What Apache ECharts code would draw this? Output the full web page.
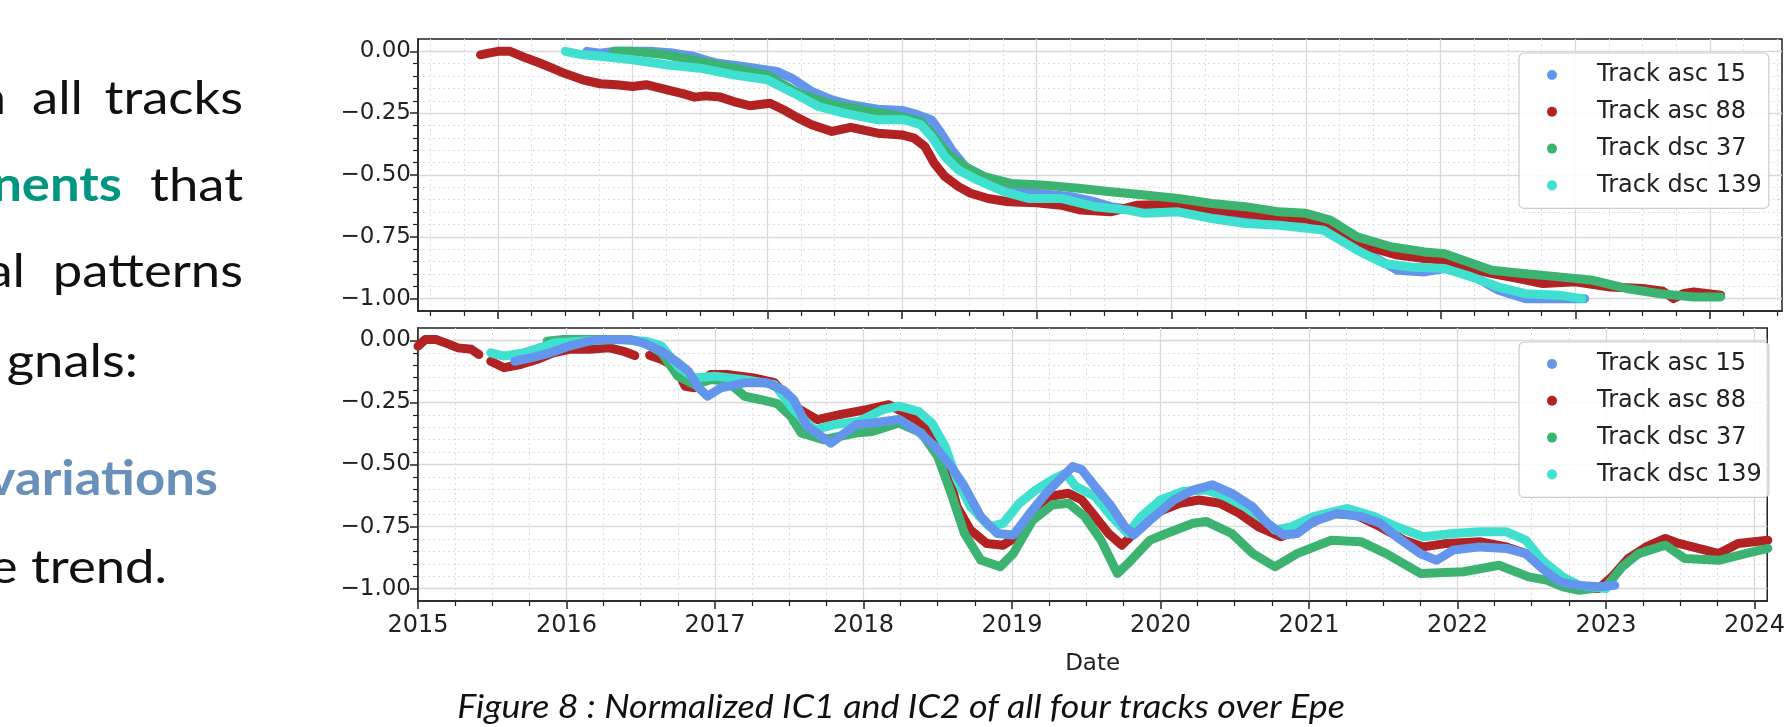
<!DOCTYPE html>
<html>
<head>
<meta charset="utf-8">
<script src="https://cdn.jsdelivr.net/npm/echarts@6/dist/echarts.min.js"></script>
<style>
  html, body { margin: 0; padding: 0; background: #ffffff; }
  #chart { width: 1788px; height: 727px; }
</style>
</head>
<body>
<div id="chart"></div>
<script>
// ---------- data (decimal year, normalized value) ----------
const seriesNames = ['Track asc 15', 'Track asc 88', 'Track dsc 37', 'Track dsc 139'];
const yearTicks = [2015, 2016, 2017, 2018, 2019, 2020, 2021, 2022, 2023, 2024];
const valueTicks = [0, -0.25, -0.5, -0.75, -1.0];

// IC1 (top panel)
const ic1Asc15 = [[2015.66,0],[2015.76,-0.007],[2015.86,0],[2016.0,0],[2016.15,0],[2016.3,-0.007],[2016.45,-0.02],[2016.62,-0.047],[2016.82,-0.061],[2017.07,-0.081],[2017.18,-0.108],[2017.33,-0.162],[2017.48,-0.196],[2017.62,-0.216],[2017.82,-0.234],[2018.0,-0.239],[2018.12,-0.257],[2018.22,-0.277],[2018.29,-0.331],[2018.37,-0.399],[2018.47,-0.466],[2018.61,-0.507],[2018.81,-0.547],[2019.0,-0.574],[2019.26,-0.588],[2019.43,-0.608],[2019.55,-0.628],[2019.75,-0.642],[2020.0,-0.642],[2020.3,-0.662],[2020.67,-0.675],[2021.0,-0.682],[2021.26,-0.736],[2021.46,-0.818],[2021.68,-0.885],[2021.88,-0.892],[2022.03,-0.878],[2022.23,-0.905],[2022.43,-0.966],[2022.63,-1.0],[2022.83,-1.0],[2023.07,-1.0]];
const ic1Asc88 = [[2014.87,-0.014],[2014.93,-0.007],[2015.0,0],[2015.09,0],[2015.21,-0.027],[2015.31,-0.047],[2015.42,-0.072],[2015.49,-0.088],[2015.63,-0.115],[2015.76,-0.131],[2015.88,-0.135],[2016.0,-0.142],[2016.1,-0.135],[2016.25,-0.155],[2016.38,-0.172],[2016.46,-0.185],[2016.54,-0.18],[2016.65,-0.185],[2016.75,-0.203],[2016.87,-0.22],[2017.02,-0.21],[2017.12,-0.236],[2017.23,-0.27],[2017.33,-0.297],[2017.48,-0.324],[2017.62,-0.307],[2017.82,-0.331],[2018.0,-0.338],[2018.09,-0.351],[2018.17,-0.385],[2018.24,-0.453],[2018.32,-0.507],[2018.42,-0.547],[2018.51,-0.574],[2018.64,-0.595],[2018.79,-0.608],[2019.0,-0.612],[2019.18,-0.622],[2019.33,-0.642],[2019.55,-0.649],[2019.75,-0.622],[2020.0,-0.618],[2020.25,-0.635],[2020.54,-0.655],[2020.77,-0.669],[2021.0,-0.676],[2021.13,-0.696],[2021.28,-0.736],[2021.46,-0.79],[2021.68,-0.824],[2021.88,-0.838],[2022.03,-0.845],[2022.18,-0.872],[2022.38,-0.899],[2022.58,-0.919],[2022.76,-0.939],[2023.0,-0.932],[2023.26,-0.953],[2023.5,-0.959],[2023.65,-0.97],[2023.73,-1.0],[2023.8,-0.98],[2023.88,-0.973],[2024.08,-0.986]];
const ic1Dsc37 = [[2015.86,0],[2016.0,0],[2016.25,-0.014],[2016.5,-0.041],[2016.75,-0.068],[2017.0,-0.095],[2017.08,-0.122],[2017.23,-0.169],[2017.45,-0.209],[2017.7,-0.236],[2018.0,-0.264],[2018.14,-0.284],[2018.24,-0.345],[2018.34,-0.412],[2018.47,-0.466],[2018.61,-0.507],[2018.81,-0.534],[2019.06,-0.541],[2019.31,-0.554],[2019.55,-0.568],[2019.8,-0.581],[2020.05,-0.595],[2020.3,-0.615],[2020.55,-0.628],[2020.8,-0.649],[2021.0,-0.655],[2021.18,-0.682],[2021.38,-0.75],[2021.63,-0.79],[2021.88,-0.811],[2022.03,-0.818],[2022.38,-0.885],[2022.63,-0.899],[2022.88,-0.912],[2023.13,-0.926],[2023.38,-0.959],[2023.63,-0.98],[2023.88,-0.993],[2024.08,-0.993]];
const ic1Dsc139 = [[2015.5,0],[2015.63,-0.014],[2015.76,-0.02],[2016.0,-0.034],[2016.25,-0.054],[2016.5,-0.068],[2016.75,-0.095],[2017.0,-0.115],[2017.2,-0.17],[2017.38,-0.223],[2017.57,-0.25],[2017.82,-0.277],[2018.02,-0.277],[2018.14,-0.297],[2018.22,-0.345],[2018.32,-0.426],[2018.42,-0.48],[2018.56,-0.52],[2018.76,-0.568],[2018.94,-0.595],[2019.18,-0.595],[2019.43,-0.628],[2019.68,-0.642],[2019.8,-0.655],[2020.05,-0.649],[2020.3,-0.676],[2020.55,-0.696],[2020.8,-0.703],[2021.13,-0.723],[2021.38,-0.804],[2021.58,-0.858],[2021.78,-0.872],[2022.03,-0.878],[2022.23,-0.912],[2022.43,-0.953],[2022.63,-0.98],[2022.88,-0.986],[2023.05,-1.0]];

// IC2 (bottom panel)
const ic2Asc15 = [[2015.65,-0.084],[2015.76,-0.07],[2015.89,-0.05],[2016.02,-0.023],[2016.15,-0.003],[2016.24,0.004],[2016.42,0.004],[2016.51,-0.009],[2016.64,-0.043],[2016.75,-0.09],[2016.82,-0.124],[2016.89,-0.191],[2016.95,-0.225],[2017.04,-0.191],[2017.2,-0.171],[2017.35,-0.171],[2017.46,-0.2],[2017.53,-0.239],[2017.62,-0.346],[2017.78,-0.414],[2017.95,-0.34],[2018.06,-0.333],[2018.24,-0.319],[2018.37,-0.367],[2018.48,-0.427],[2018.59,-0.508],[2018.68,-0.589],[2018.79,-0.71],[2018.9,-0.778],[2019.01,-0.784],[2019.12,-0.697],[2019.23,-0.616],[2019.34,-0.549],[2019.41,-0.508],[2019.47,-0.521],[2019.56,-0.589],[2019.67,-0.67],[2019.76,-0.751],[2019.82,-0.784],[2019.93,-0.724],[2020.09,-0.643],[2020.22,-0.603],[2020.35,-0.582],[2020.48,-0.616],[2020.62,-0.67],[2020.72,-0.737],[2020.83,-0.784],[2020.92,-0.778],[2021.03,-0.73],[2021.19,-0.697],[2021.35,-0.71],[2021.48,-0.737],[2021.59,-0.791],[2021.75,-0.859],[2021.86,-0.886],[2021.97,-0.845],[2022.15,-0.832],[2022.33,-0.838],[2022.46,-0.859],[2022.57,-0.919],[2022.69,-0.973],[2022.82,-0.987],[2022.95,-0.993],[2023.06,-0.987]];
const ic2Asc88 = [[2015.0,-0.023],[2015.05,0.004],[2015.12,0.004],[2015.18,-0.009],[2015.27,-0.03],[2015.36,-0.036],[2015.41,-0.057],null,[2015.49,-0.084],[2015.58,-0.11],[2015.69,-0.097],[2015.8,-0.077],[2015.91,-0.05],[2016.02,-0.036],[2016.15,-0.036],[2016.29,-0.03],[2016.38,-0.043],[2016.46,-0.061],null,[2016.56,-0.06],[2016.64,-0.077],[2016.73,-0.104],[2016.8,-0.185],[2016.86,-0.191],[2016.97,-0.137],[2017.08,-0.137],[2017.26,-0.151],[2017.4,-0.17],[2017.46,-0.212],[2017.53,-0.265],[2017.69,-0.319],[2017.84,-0.299],[2018.02,-0.279],[2018.17,-0.259],[2018.28,-0.292],[2018.39,-0.333],[2018.5,-0.427],[2018.57,-0.535],[2018.63,-0.67],[2018.72,-0.764],[2018.83,-0.818],[2018.94,-0.825],[2019.03,-0.791],[2019.14,-0.697],[2019.25,-0.629],[2019.38,-0.616],[2019.47,-0.643],[2019.56,-0.71],[2019.65,-0.778],[2019.74,-0.825],[2019.82,-0.778],[2019.96,-0.697],[2020.13,-0.656],[2020.26,-0.643],[2020.4,-0.656],[2020.53,-0.697],[2020.66,-0.751],[2020.81,-0.791],[2020.92,-0.764],[2021.15,-0.697],[2021.32,-0.704],[2021.48,-0.751],[2021.64,-0.805],[2021.77,-0.832],[2021.93,-0.818],[2022.15,-0.811],[2022.33,-0.832],[2022.46,-0.859],[2022.6,-0.912],[2022.71,-0.966],[2022.82,-1.0],[2022.95,-1.0],[2023.04,-0.953],[2023.15,-0.879],[2023.27,-0.832],[2023.4,-0.798],[2023.49,-0.818],[2023.67,-0.845],[2023.76,-0.859],[2023.89,-0.818],[2024.09,-0.805]];
const ic2Dsc37 = [[2015.87,-0.003],[2015.98,0.004],[2016.2,0.004],[2016.42,0.004],[2016.53,-0.009],[2016.64,-0.05],[2016.75,-0.144],[2016.86,-0.178],[2016.97,-0.158],[2017.08,-0.164],[2017.2,-0.225],[2017.31,-0.239],[2017.42,-0.255],[2017.51,-0.306],[2017.58,-0.373],[2017.73,-0.4],[2017.95,-0.373],[2018.06,-0.367],[2018.24,-0.333],[2018.39,-0.373],[2018.5,-0.468],[2018.59,-0.616],[2018.68,-0.778],[2018.79,-0.885],[2018.92,-0.912],[2019.01,-0.858],[2019.14,-0.724],[2019.27,-0.663],[2019.38,-0.656],[2019.49,-0.71],[2019.6,-0.805],[2019.71,-0.939],[2019.78,-0.899],[2019.93,-0.805],[2020.04,-0.778],[2020.22,-0.737],[2020.31,-0.73],[2020.48,-0.778],[2020.62,-0.858],[2020.77,-0.912],[2020.92,-0.859],[2021.15,-0.805],[2021.35,-0.811],[2021.52,-0.859],[2021.75,-0.939],[2022.04,-0.932],[2022.28,-0.906],[2022.48,-0.953],[2022.6,-0.966],[2022.71,-0.993],[2022.82,-1.007],[2023.0,-0.993],[2023.11,-0.912],[2023.22,-0.859],[2023.4,-0.825],[2023.53,-0.879],[2023.76,-0.886],[2023.94,-0.859],[2024.09,-0.838]];
const ic2Dsc139 = [[2015.49,-0.05],[2015.58,-0.063],[2015.71,-0.05],[2015.82,-0.03],[2015.93,-0.009],[2016.09,-0.003],[2016.31,0.004],[2016.53,-0.003],[2016.64,-0.023],[2016.75,-0.104],[2016.86,-0.151],[2017.0,-0.144],[2017.2,-0.158],[2017.4,-0.178],[2017.53,-0.279],[2017.67,-0.36],[2017.8,-0.34],[2017.97,-0.326],[2018.13,-0.279],[2018.24,-0.265],[2018.37,-0.286],[2018.46,-0.333],[2018.55,-0.427],[2018.63,-0.562],[2018.72,-0.67],[2018.85,-0.751],[2018.94,-0.737],[2019.05,-0.656],[2019.16,-0.603],[2019.27,-0.562],[2019.36,-0.535],[2019.43,-0.589],[2019.56,-0.629],[2019.67,-0.71],[2019.78,-0.778],[2019.87,-0.71],[2020.0,-0.643],[2020.15,-0.609],[2020.31,-0.603],[2020.44,-0.629],[2020.57,-0.67],[2020.7,-0.724],[2020.77,-0.764],[2020.88,-0.751],[2021.03,-0.71],[2021.26,-0.677],[2021.44,-0.71],[2021.59,-0.751],[2021.77,-0.791],[2021.97,-0.778],[2022.15,-0.771],[2022.33,-0.771],[2022.46,-0.805],[2022.57,-0.886],[2022.71,-0.953],[2022.82,-0.987],[2023.0,-1.0]];

// ---------- styling ----------
const colors = {
  'Track asc 15': '#6495ED',
  'Track asc 88': '#B22222',
  'Track dsc 37': '#3CB371',
  'Track dsc 139': '#40E0D0'
};
const FONT = 'DejaVu Sans';
const INK = '#222222';

function minorList(min, max, step, isMajor) {
  const out = [];
  const n0 = Math.ceil(min / step - 1e-9), n1 = Math.floor(max / step + 1e-9);
  for (let i = n0; i <= n1; i++) {
    const v = Math.round(i * step * 1000) / 1000;
    if (v > min + 1e-6 && v < max - 1e-6 && !isMajor(v)) out.push(v);
  }
  return out;
}
const isInt = v => Math.abs(v - Math.round(v)) < 1e-6;
const isQuarterVal = v => Math.abs(v / 0.25 - Math.round(v / 0.25)) < 1e-6;

const Y_MIN = -1.05, Y_MAX = 0.05;
const TOP_X = [2014.406, 2024.535];
const BOT_X = [2015.0, 2024.086];

const yMinor = minorList(Y_MIN, Y_MAX, 0.05, isQuarterVal);
const topXMinor = minorList(TOP_X[0], TOP_X[1], 0.25, isInt);
const botXMinor = minorList(BOT_X[0], BOT_X[1], 0.25, isInt);

const fmtY = v => (v < 0 ? '\u2212' : '') + Math.abs(v).toFixed(2);

function majorX(grid, range, showLabels) {
  return {
    type: 'value', gridIndex: grid, min: range[0], max: range[1], position: 'bottom',
    axisLine: { show: true, onZero: false, lineStyle: { color: INK, width: 1.5 } },
    axisTick: { show: true, length: 8, customValues: yearTicks, lineStyle: { color: INK, width: 1.5 } },
    axisLabel: { show: showLabels, customValues: yearTicks, formatter: v => String(Math.round(v)),
      fontFamily: FONT, fontSize: 24, color: INK, margin: 13 },
    splitLine: { show: true, lineStyle: { color: '#d9d9d9', width: 1.3 } },
    name: showLabels ? 'Date' : '', nameLocation: 'middle', nameGap: 52,
    nameTextStyle: { fontFamily: FONT, fontSize: 23, color: INK }
  };
}
function minorX(grid, range, list) {
  return {
    type: 'value', gridIndex: grid, min: range[0], max: range[1], position: 'bottom',
    axisLine: { show: false, onZero: false },
    axisTick: { show: true, length: 5, customValues: list, lineStyle: { color: INK, width: 1.2 } },
    axisLabel: { show: false, customValues: list },
    splitLine: { show: true, lineStyle: { color: '#dedede', width: 1, type: [2, 3] } }
  };
}
function majorY(grid) {
  return {
    type: 'value', gridIndex: grid, min: Y_MIN, max: Y_MAX, position: 'left',
    axisLine: { show: true, onZero: false, lineStyle: { color: INK, width: 1.5 } },
    axisTick: { show: true, length: 8, customValues: valueTicks, lineStyle: { color: INK, width: 1.5 } },
    axisLabel: { show: true, customValues: valueTicks, formatter: fmtY,
      fontFamily: FONT, fontSize: 23, color: INK, margin: 7 },
    splitLine: { show: true, lineStyle: { color: '#d9d9d9', width: 1.3 } }
  };
}
function minorY(grid) {
  return {
    type: 'value', gridIndex: grid, min: Y_MIN, max: Y_MAX, position: 'left',
    axisLine: { show: false, onZero: false },
    axisTick: { show: true, length: 5, customValues: yMinor, lineStyle: { color: INK, width: 1.2 } },
    axisLabel: { show: false, customValues: yMinor },
    splitLine: { show: true, lineStyle: { color: '#dedede', width: 1, type: [2, 3] } }
  };
}

function mkSeries(name, data, xi, yi, z) {
  return {
    name: name, type: 'line', data: data, xAxisIndex: xi, yAxisIndex: yi,
    showSymbol: false, symbol: 'circle', connectNulls: false, z: z,
    color: colors[name],
    lineStyle: { width: 9, color: colors[name], cap: 'round', join: 'round' },
    emphasis: { disabled: true }, animation: false
  };
}

function legendAt(top) {
  return {
    orient: 'vertical', left: 1519, top: top, icon: 'circle',
    itemWidth: 10, itemHeight: 10, itemGap: 12.8,
    data: seriesNames,
    padding: [10, 7, 11, 28],
    backgroundColor: 'rgba(255,255,255,0.85)', borderColor: '#cccccc', borderWidth: 1.2, borderRadius: 5,
    textStyle: { fontFamily: FONT, fontSize: 24, color: INK, lineHeight: 24, padding: [0, 0, 0, 35] },
    selectedMode: false
  };
}

const leftFont = 'Lato';
function slideText(str, x, yMid, align, color, weight) {
  return {
    type: 'text', x: x, y: yMid, scaleX: 1.12, silent: true,
    style: { text: str, fill: color || '#111111', font: (weight || 'normal') + ' 47px ' + leftFont,
      align: align, verticalAlign: 'middle' }
  };
}

const option = {
  backgroundColor: '#ffffff',
  animation: false,
  grid: [
    { left: 418, top: 39, width: 1364, height: 272, show: true, borderColor: INK, borderWidth: 1.5, backgroundColor: 'transparent' },
    { left: 418, top: 328, width: 1369, height: 273, show: true, borderColor: INK, borderWidth: 1.5, backgroundColor: 'transparent' }
  ],
  xAxis: [ majorX(0, TOP_X, false), minorX(0, TOP_X, topXMinor), majorX(1, BOT_X, true), minorX(1, BOT_X, botXMinor) ],
  yAxis: [ majorY(0), minorY(0), majorY(1), minorY(1) ],
  legend: [ legendAt(53), legendAt(342) ],
  series: [
    mkSeries('Track asc 15', ic1Asc15, 0, 0, 2),
    mkSeries('Track asc 88', ic1Asc88, 0, 0, 3),
    mkSeries('Track dsc 37', ic1Dsc37, 0, 0, 4),
    mkSeries('Track dsc 139', ic1Dsc139, 0, 0, 5),
    mkSeries('Track asc 88', ic2Asc88, 2, 2, 2),
    mkSeries('Track dsc 37', ic2Dsc37, 2, 2, 3),
    mkSeries('Track dsc 139', ic2Dsc139, 2, 2, 4),
    mkSeries('Track asc 15', ic2Asc15, 2, 2, 5)
  ],
  graphic: [
    slideText('n', 6, 99, 'right'),
    slideText('all', 32, 99, 'left'),
    slideText('tracks', 243, 99, 'right'),
    slideText('nents', 122, 186, 'right', '#00967F', 'bold'),
    slideText('that', 243, 186, 'right'),
    slideText('al', 25, 272, 'right'),
    slideText('patterns', 243, 272, 'right'),
    slideText('gnals:', 138, 362, 'right'),
    slideText('variations', 218, 480, 'right', '#6890B8', 'bold'),
    slideText('e trend.', 167, 568, 'right'),
    {
      type: 'text', x: 901, y: 708, scaleX: 1.12, silent: true,
      style: { text: 'Figure 8 : Normalized IC1 and IC2 of all four tracks over Epe',
        fill: '#111111', font: 'italic 32px Lato', align: 'center', verticalAlign: 'middle' }
    }
  ]
};

const chart = echarts.init(document.getElementById('chart'), null, { renderer: 'canvas', width: 1788, height: 727 });
chart.setOption(option);
</script>
</body>
</html>
